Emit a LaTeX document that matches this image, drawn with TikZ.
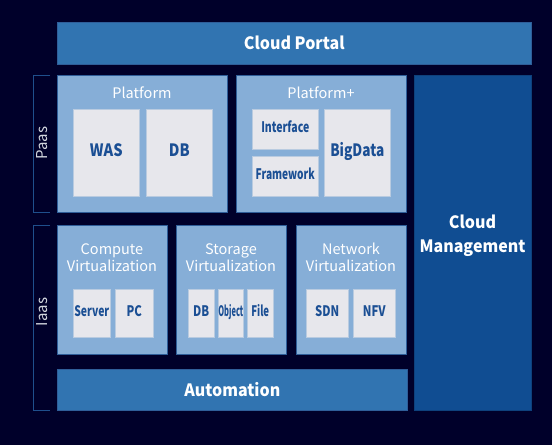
\documentclass[tikz,border=0pt]{standalone}
\usepackage{fontspec}
\setmainfont{Noto Sans CJK KR}
\newfontfamily\barfont[FakeStretch=0.94]{Noto Sans CJK KR}
\newfontfamily\itemfont[FakeStretch=0.86]{Noto Sans CJK KR}
\newfontfamily\smallitemfont[FakeStretch=0.78]{Noto Sans CJK KR}
\usepackage{tikz}
\usetikzlibrary{calc}
\definecolor{night}{HTML}{00002A}
\definecolor{portal}{HTML}{3174B1}
\definecolor{groupblue}{HTML}{86AED7}
\definecolor{groupedge}{HTML}{2F5E99}
\definecolor{itemgray}{HTML}{E7E7EC}
\definecolor{itemedge}{HTML}{B9CBE0}
\definecolor{itemtext}{HTML}{1B4F94}
\definecolor{mgmt}{HTML}{104D92}
\definecolor{bracket}{HTML}{1F4F8C}
\definecolor{layertext}{HTML}{D3D7DF}
\tikzset{
  bar/.style={anchor=north west, fill=portal, draw=groupedge, line width=.6pt, inner sep=0pt, text=white, font=\barfont\bfseries\fontsize{17}{20}\selectfont},
  group/.style={anchor=north west, fill=groupblue, draw=groupedge, line width=.6pt, inner sep=0pt},
  grouptitle/.style={text=white, align=center, inner sep=0pt, font=\fontsize{14.5}{17}\selectfont},
  item/.style={anchor=north west, fill=itemgray, draw=itemedge, line width=.6pt, inner sep=0pt, text height=.73em, text depth=0pt, text=itemtext, font=\itemfont\bfseries\fontsize{17}{20}\selectfont},
  smallitem/.style={item, font=\smallitemfont\bfseries\fontsize{14.5}{16}\selectfont},
  layer/.style={rotate=90, text=layertext, inner sep=0pt, font=\fontsize{15}{18}\selectfont},
  brace/.style={draw=bracket, line width=1pt}
}
\begin{document}
\begin{tikzpicture}[x=1pt,y=-1pt]
  \fill[night] (0,0) rectangle (552,445);
  \useasboundingbox (0,0) rectangle (552,445);
  % top and bottom bars
  \node[bar, minimum width=474, minimum height=42] (portal) at (57,22) {Cloud Portal};
  \node[bar, minimum width=350, minimum height=41] (automation) at (57,369) {Automation};
  \node[group, fill=mgmt, draw=mgmt!85!black, minimum width=117, minimum height=335] (mgmt) at (414,75) {};
  \node[text=white, align=center, font=\barfont\bfseries\fontsize{17}{24}\selectfont] (mgmttext) at (472.5,236) {Cloud\\Management};
  % Paas
  \node[group, minimum width=170, minimum height=137] (platform) at (57,75) {};
  \node[grouptitle] (platformtitle) at (142,93) {Platform};
  \node[item, minimum width=66, minimum height=87] (was) at (73,109) {WAS};
  \node[item, minimum width=66, minimum height=87] (platformdb) at (146,109) {DB};
  \node[group, minimum width=170, minimum height=137] (platformplus) at (236,75) {};
  \node[grouptitle] (platformplustitle) at (321,93) {Platform+};
  \node[smallitem, minimum width=66, minimum height=40] (interface) at (252,109) {\scalebox{.93}[1]{Interface}};
  \node[smallitem, minimum width=66, minimum height=40] (framework) at (252,156) {\scalebox{.9}[1]{Framework}};
  \node[item, minimum width=66, minimum height=87] (bigdata) at (324,109) {\scalebox{.93}[1]{BigData}};
  % Iaas
  \node[group, minimum width=110, minimum height=129] (compute) at (57,225) {};
  \node[grouptitle] (computetitle) at (112,257.5) {Compute\\Virtualization};
  \node[smallitem, minimum width=37, minimum height=48] (server) at (73,289) {\scalebox{.92}[1]{Server}};
  \node[smallitem, minimum width=38, minimum height=48] (pc) at (115,289) {PC};
  \node[group, minimum width=110, minimum height=129] (storage) at (176,225) {};
  \node[grouptitle] (storagetitle) at (231,257.5) {Storage\\Virtualization};
  \node[smallitem, minimum width=26, minimum height=48] (storagedb) at (188,289) {DB};
  \node[smallitem, minimum width=25, minimum height=48] (object) at (218,289) {\scalebox{.66}[1]{Object}};
  \node[smallitem, minimum width=26, minimum height=48] (file) at (247,289) {\scalebox{.85}[1]{File}};
  \node[group, minimum width=110, minimum height=129] (network) at (296,225) {};
  \node[grouptitle] (networktitle) at (351,257.5) {Network\\Virtualization};
  \node[smallitem, minimum width=42, minimum height=48] (sdn) at (306,289) {SDN};
  \node[smallitem, minimum width=42, minimum height=48] (nfv) at (353,289) {NFV};
  % layer brackets
  \draw[brace] ([xshift=-7]platform.north west) -- ++(-17,0) |- ([xshift=-7]platform.south west);
  \node[layer] (paas) at (42,143) {Paas};
  \draw[brace] ([xshift=-7]compute.north west) -- ++(-17,0) |- ([xshift=-7]automation.south west);
  \node[layer] (iaas) at (42,312) {Iaas};
\end{tikzpicture}
\end{document}
